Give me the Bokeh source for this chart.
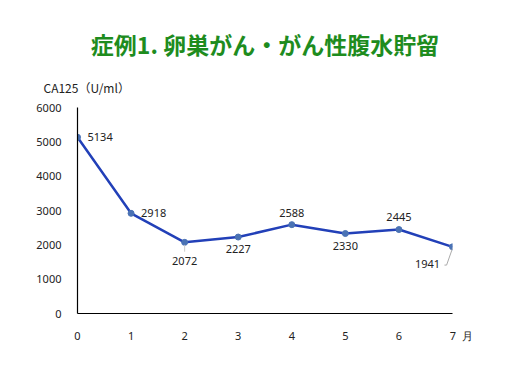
from bokeh.plotting import figure
from bokeh.models import Range1d, ColumnDataSource, LabelSet, FixedTicker, Title
from bokeh.core.properties import value
from bokeh.embed import file_html
from bokeh.resources import INLINE

months = [0, 1, 2, 3, 4, 5, 6, 7]
ca125 = [5134, 2918, 2072, 2227, 2588, 2330, 2445, 1941]
label_dx = [10, 10, 0, 0, 0, 0, 0, -25]
label_dy = [0, 0, -19, -12, 12, -12, 13, -17]
label_align = ["left", "left", "center", "center", "center", "center", "center", "center"]
y_ticks = [0, 1000, 2000, 3000, 4000, 5000, 6000]
x_ticks = [0, 1, 2, 3, 4, 5, 6, 7]

title_text = "症例1. 卵巣がん・がん性腹水貯留"
y_title = "CA125（U/ml）"
x_unit = "月"

FONT = "Noto Sans CJK JP"

p = figure(width=511, height=359, output_backend="svg", toolbar_location=None,
           x_range=Range1d(0, 7), y_range=Range1d(0, 6000),
           min_border_left=77, min_border_right=59, min_border_top=107, min_border_bottom=46)
p.outline_line_color = None
p.grid.visible = False
p.background_fill_color = "white"

for ax in (p.xaxis[0], p.yaxis[0]):
    ax.major_tick_line_color = None
    ax.minor_tick_line_color = None
    ax.axis_line_color = "black"
    ax.axis_line_width = 1.2
    ax.major_label_text_font = "Noto Sans"
    ax.major_label_text_font_size = "11px"
    ax.major_label_text_color = "#222222"
p.yaxis.ticker = FixedTicker(ticks=y_ticks)
p.xaxis.ticker = FixedTicker(ticks=x_ticks)
p.yaxis.major_label_standoff = 10
p.xaxis.major_label_standoff = 8
# unit "月" sits just right of the last month tick label
p.xaxis.major_label_overrides = {x_ticks[-1]: "\u2007\u2007\u2002" + str(x_ticks[-1]) + "\u2007" + x_unit}

src = ColumnDataSource(dict(x=months, y=ca125, t=[str(v) for v in ca125],
                            dx=label_dx, dy=label_dy, al=label_align))
p.line("x", "y", source=src, line_color="#2240b8", line_width=2.5)
p.scatter("x", "y", source=src, size=6, fill_color="#4a72b4", line_color="#4a72b4")

# leader lines
p.segment(x0=[7, 7 - 0.11], y0=[1900, 1410], x1=[7 - 0.11, 7 - 0.15], y1=[1410, 1410],
          line_color="#aaaaaa", line_width=1)
p.segment(x0=[2], y0=[2000], x1=[2], y1=[1800], line_color="#cccccc", line_width=1)

labels = LabelSet(x="x", y="y", text="t", source=src, x_offset="dx", y_offset="dy",
                  text_align="al", text_baseline="middle", text_font=value("Noto Sans"),
                  text_font_size="11px", text_color="#222222")
p.add_layout(labels)

p.add_layout(Title(text=y_title, align="left", offset=-34, standoff=24,
                   text_font=FONT, text_font_size="12px", text_font_style="normal",
                   text_color="#222222"), "above")
p.add_layout(Title(text=title_text, align="center", offset=2, standoff=7,
                   text_font=FONT, text_font_size="23px", text_font_style="bold",
                   text_color="#1e8c1e"), "above")

open("out.html", "w").write(file_html(p, INLINE))
